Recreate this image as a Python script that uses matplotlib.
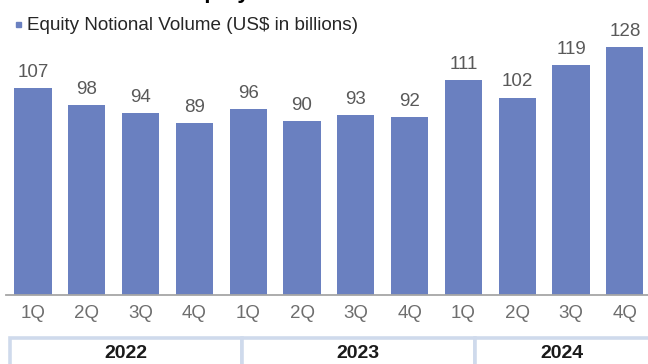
import matplotlib
matplotlib.use("Agg")
import matplotlib.pyplot as plt
from matplotlib.patches import Rectangle

plt.rcParams['font.family'] = ['Liberation Sans', 'DejaVu Sans']

quarters = ["1Q", "2Q", "3Q", "4Q", "1Q", "2Q", "3Q", "4Q", "1Q", "2Q", "3Q", "4Q"]
volumes = [107, 98, 94, 89, 96, 90, 93, 92, 111, 102, 119, 128]
years = ["2022", "2023", "2024"]

bar_color = "#6A80C0"
value_grey = "#595959"
tick_grey = "#6E6E6E"
box_color = "#CFDAEC"

W, H = 648, 364
fig = plt.figure(figsize=(W / 100, H / 100), dpi=100)

# plot area: baseline at 295 px from top, 1.935 px per unit
base_px, px_per_unit, ymax = 295, 1.935, 140
ax_h = ymax * px_per_unit
ax = fig.add_axes([6 / W, (H - base_px) / H, 1 - 6 / W, ax_h / H])
x = list(range(len(volumes)))
ax.bar(x, volumes, width=0.69, color=bar_color, zorder=2)
ax.set_xlim(-0.502, 11.43)
ax.set_ylim(0, ymax)
for xi, v in zip(x, volumes):
    ax.text(xi, v + 5.8, str(v), ha="center", va="baseline", fontsize=13.5, color=value_grey)

for s in ["top", "right", "left"]:
    ax.spines[s].set_visible(False)
ax.spines["bottom"].set_color("#A6A6A6")
ax.spines["bottom"].set_linewidth(1.3)
ax.set_yticks([])
ax.set_xticks(x)
ax.set_xticklabels(quarters, fontsize=13.5, color=tick_grey)
ax.tick_params(axis="x", length=0, pad=7)

# series key
fig.patches.append(Rectangle((16 / W, 1 - 27 / H), 5 / W, 5 / H, transform=fig.transFigure,
                             color=bar_color))
fig.text(27 / W, 1 - 25 / H, "Equity Notional Volume (US$ in billions)", fontsize=13.6,
         color="#262626", va="center", ha="left")

# chart title (runs off the top edge)
fig.text(216 / W, 1 + 2 / H, "Equity", fontsize=16, fontweight="bold", color="black",
         va="baseline", ha="center")

# year band under the quarter labels
edges = [10, 242, 475, 680]
centers = [126, 358, 562]
for i, yr in enumerate(years):
    x0, x1 = edges[i], edges[i + 1]
    fig.patches.append(Rectangle((x0 / W, -0.05), (x1 - x0) / W, 0.05 + (H - 337.5) / H,
                                 transform=fig.transFigure, facecolor="white",
                                 edgecolor=box_color, linewidth=2.6))
    fig.text(centers[i] / W, (H - 353) / H, yr, fontsize=14, fontweight="bold",
             color="#1A1A1A", ha="center", va="center")

fig.savefig("out.png", dpi=100)
